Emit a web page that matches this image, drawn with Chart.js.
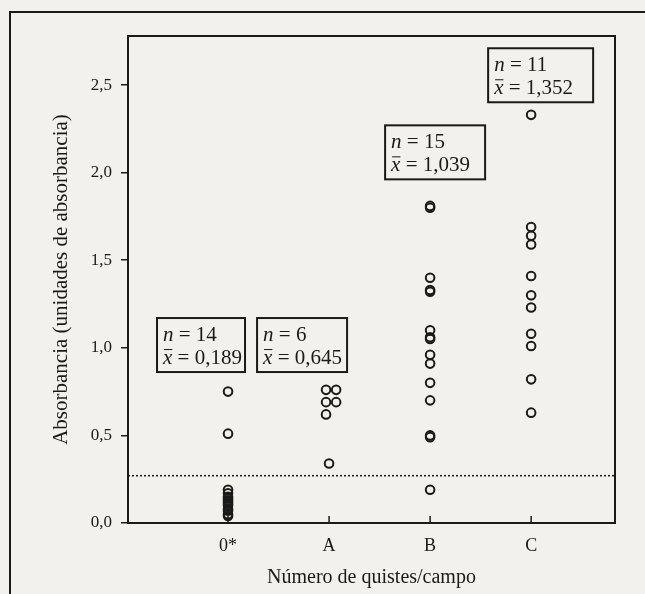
<!DOCTYPE html>
<html>
<head>
<meta charset="utf-8">
<script src="https://cdn.jsdelivr.net/npm/chart.js@4.4.1/dist/chart.umd.min.js"></script>
<style>
  html, body { margin: 0; padding: 0; background: #f3f1eb; }
  #wrap { width: 645px; height: 594px; position: relative; }
</style>
</head>
<body>
<div id="wrap"><canvas id="myChart" width="645" height="594"></canvas></div>
<script>
// categories and values
var categories = ['0*', 'A', 'B', 'C'];
var values0 = [0.75, 0.51, 0.19, 0.17, 0.15, 0.14, 0.13, 0.12, 0.11, 0.10, 0.08, 0.07, 0.05, 0.04];
var valuesA = [0.76, 0.76, 0.69, 0.69, 0.62, 0.34];
// small sideways shift of the A circles that share a row (category units)
var shiftA = [-0.03, 0.07, -0.03, 0.07, -0.03, 0];
var valuesB = [1.81, 1.80, 1.40, 1.33, 1.32, 1.10, 1.06, 1.05, 0.96, 0.91, 0.80, 0.70, 0.50, 0.49, 0.19];
var valuesC = [2.33, 1.69, 1.64, 1.59, 1.41, 1.30, 1.23, 1.08, 1.01, 0.82, 0.63];
var nLabels = ['14', '6', '15', '11'];
var meanLabels = ['0,189', '0,645', '1,039', '1,352'];
var yTicks = [0, 0.5, 1.0, 1.5, 2.0, 2.5];
var cutoff = 0.27;

var groups = [values0, valuesA, valuesB, valuesC];
var points = [];
groups.forEach(function (g, i) {
  g.forEach(function (v, j) {
    var dx = (i === 1) ? shiftA[j] : 0;
    points.push({ x: i + dx, y: v });
  });
});

// where the n / mean boxes sit: pixel offset from category, top in y units, box width
var boxPlace = [
  { dx: -71, top: 1.17, w: 88 },
  { dx: -72, top: 1.17, w: 90 },
  { dx: -45, top: 2.27, w: 100 },
  { dx: -43, top: 2.71, w: 105 }
];

var ink = '#1a1a1a';
var serif = '"Liberation Serif", "DejaVu Serif", serif';

var decorPlugin = {
  id: 'decor',
  beforeDraw: function (chart) {
    var ctx = chart.ctx;
    ctx.save();
    ctx.strokeStyle = ink;
    ctx.lineWidth = 2;
    // outer frame (runs off the page on right and bottom)
    ctx.strokeRect(10, 12, 700, 700);
    ctx.restore();
  },
  afterDraw: function (chart) {
    var ctx = chart.ctx;
    var a = chart.chartArea;
    var xs = chart.scales.x, ys = chart.scales.y;
    ctx.save();
    // plot frame
    ctx.strokeStyle = ink;
    ctx.lineWidth = 2;
    ctx.strokeRect(a.left, a.top, a.right - a.left, a.bottom - a.top);

    // inward x ticks
    ctx.lineWidth = 1.5;
    categories.forEach(function (c, i) {
      var px = xs.getPixelForValue(i);
      ctx.beginPath();
      ctx.moveTo(px, a.bottom);
      ctx.lineTo(px, a.bottom - 7);
      ctx.stroke();
    });

    // dotted cutoff line
    var cy = ys.getPixelForValue(cutoff);
    ctx.setLineDash([2, 2]);
    ctx.lineWidth = 1.5;
    ctx.beginPath();
    ctx.moveTo(a.left, cy);
    ctx.lineTo(a.right, cy);
    ctx.stroke();
    ctx.setLineDash([]);

    // n / mean boxes
    ctx.fillStyle = ink;
    ctx.textBaseline = 'alphabetic';
    ctx.textAlign = 'left';
    var fs = 21;
    categories.forEach(function (c, i) {
      var left = xs.getPixelForValue(i) + boxPlace[i].dx;
      var top = ys.getPixelForValue(boxPlace[i].top);
      ctx.lineWidth = 2;
      ctx.strokeRect(left, top, boxPlace[i].w, 54);

      var tx = left + 6;
      ctx.font = 'italic ' + fs + 'px ' + serif;
      ctx.fillText('n', tx, top + 23);
      var wn = ctx.measureText('n').width;
      ctx.font = fs + 'px ' + serif;
      ctx.fillText(' = ' + nLabels[i], tx + wn, top + 23);

      ctx.font = 'italic ' + fs + 'px ' + serif;
      ctx.fillText('x', tx, top + 46);
      var wx = ctx.measureText('x').width;
      ctx.lineWidth = 1;
      ctx.beginPath();
      ctx.moveTo(tx + 1, top + 31.5);
      ctx.lineTo(tx + wx, top + 31.5);
      ctx.stroke();
      ctx.font = fs + 'px ' + serif;
      ctx.fillText(' = ' + meanLabels[i], tx + wx, top + 46);
    });
    ctx.restore();
  }
};

var ctx = document.getElementById('myChart').getContext('2d');
new Chart(ctx, {
  type: 'scatter',
  data: {
    datasets: [{
      data: points,
      pointStyle: 'circle',
      pointRadius: 4.3,
      pointBorderWidth: 2,
      pointBorderColor: ink,
      pointBackgroundColor: 'rgba(0,0,0,0)'
    }]
  },
  options: {
    responsive: false,
    animation: false,
    layout: { padding: { left: 0, right: 30, top: 36, bottom: 0 } },
    plugins: { legend: { display: false }, tooltip: { enabled: false } },
    scales: {
      x: {
        type: 'linear',
        min: -0.99,
        max: 3.83,
        afterFit: function (s) { s.height = 71; },
        afterBuildTicks: function (s) {
          s.ticks = categories.map(function (c, i) { return { value: i }; });
        },
        grid: { display: false },
        border: { display: true, color: ink, width: 2 },
        ticks: {
          padding: 4,
          color: ink,
          font: { family: serif, size: 18 },
          callback: function (v) { return categories[v]; }
        },
        title: {
          display: true,
          text: 'Número de quistes/campo',
          color: ink,
          font: { family: serif, size: 20 },
          padding: { top: 0, bottom: 4 }
        }
      },
      y: {
        min: 0,
        max: 2.78,
        afterFit: function (s) { s.width = 128; },
        afterBuildTicks: function (s) {
          s.ticks = yTicks.map(function (v) { return { value: v }; });
        },
        grid: {
          drawOnChartArea: false,
          drawTicks: true,
          tickLength: 7,
          color: ink,
          lineWidth: 1.5
        },
        border: { display: true, color: ink, width: 2 },
        ticks: {
          padding: 9,
          color: ink,
          font: { family: serif, size: 17 },
          callback: function (v) { return v.toFixed(1).replace('.', ','); }
        },
        title: {
          display: true,
          text: 'Absorbancia (unidades de absorbancia)',
          color: ink,
          font: { family: serif, size: 21 },
          padding: { top: 49, bottom: 0 }
        }
      }
    }
  },
  plugins: [decorPlugin]
});
</script>
</body>
</html>
